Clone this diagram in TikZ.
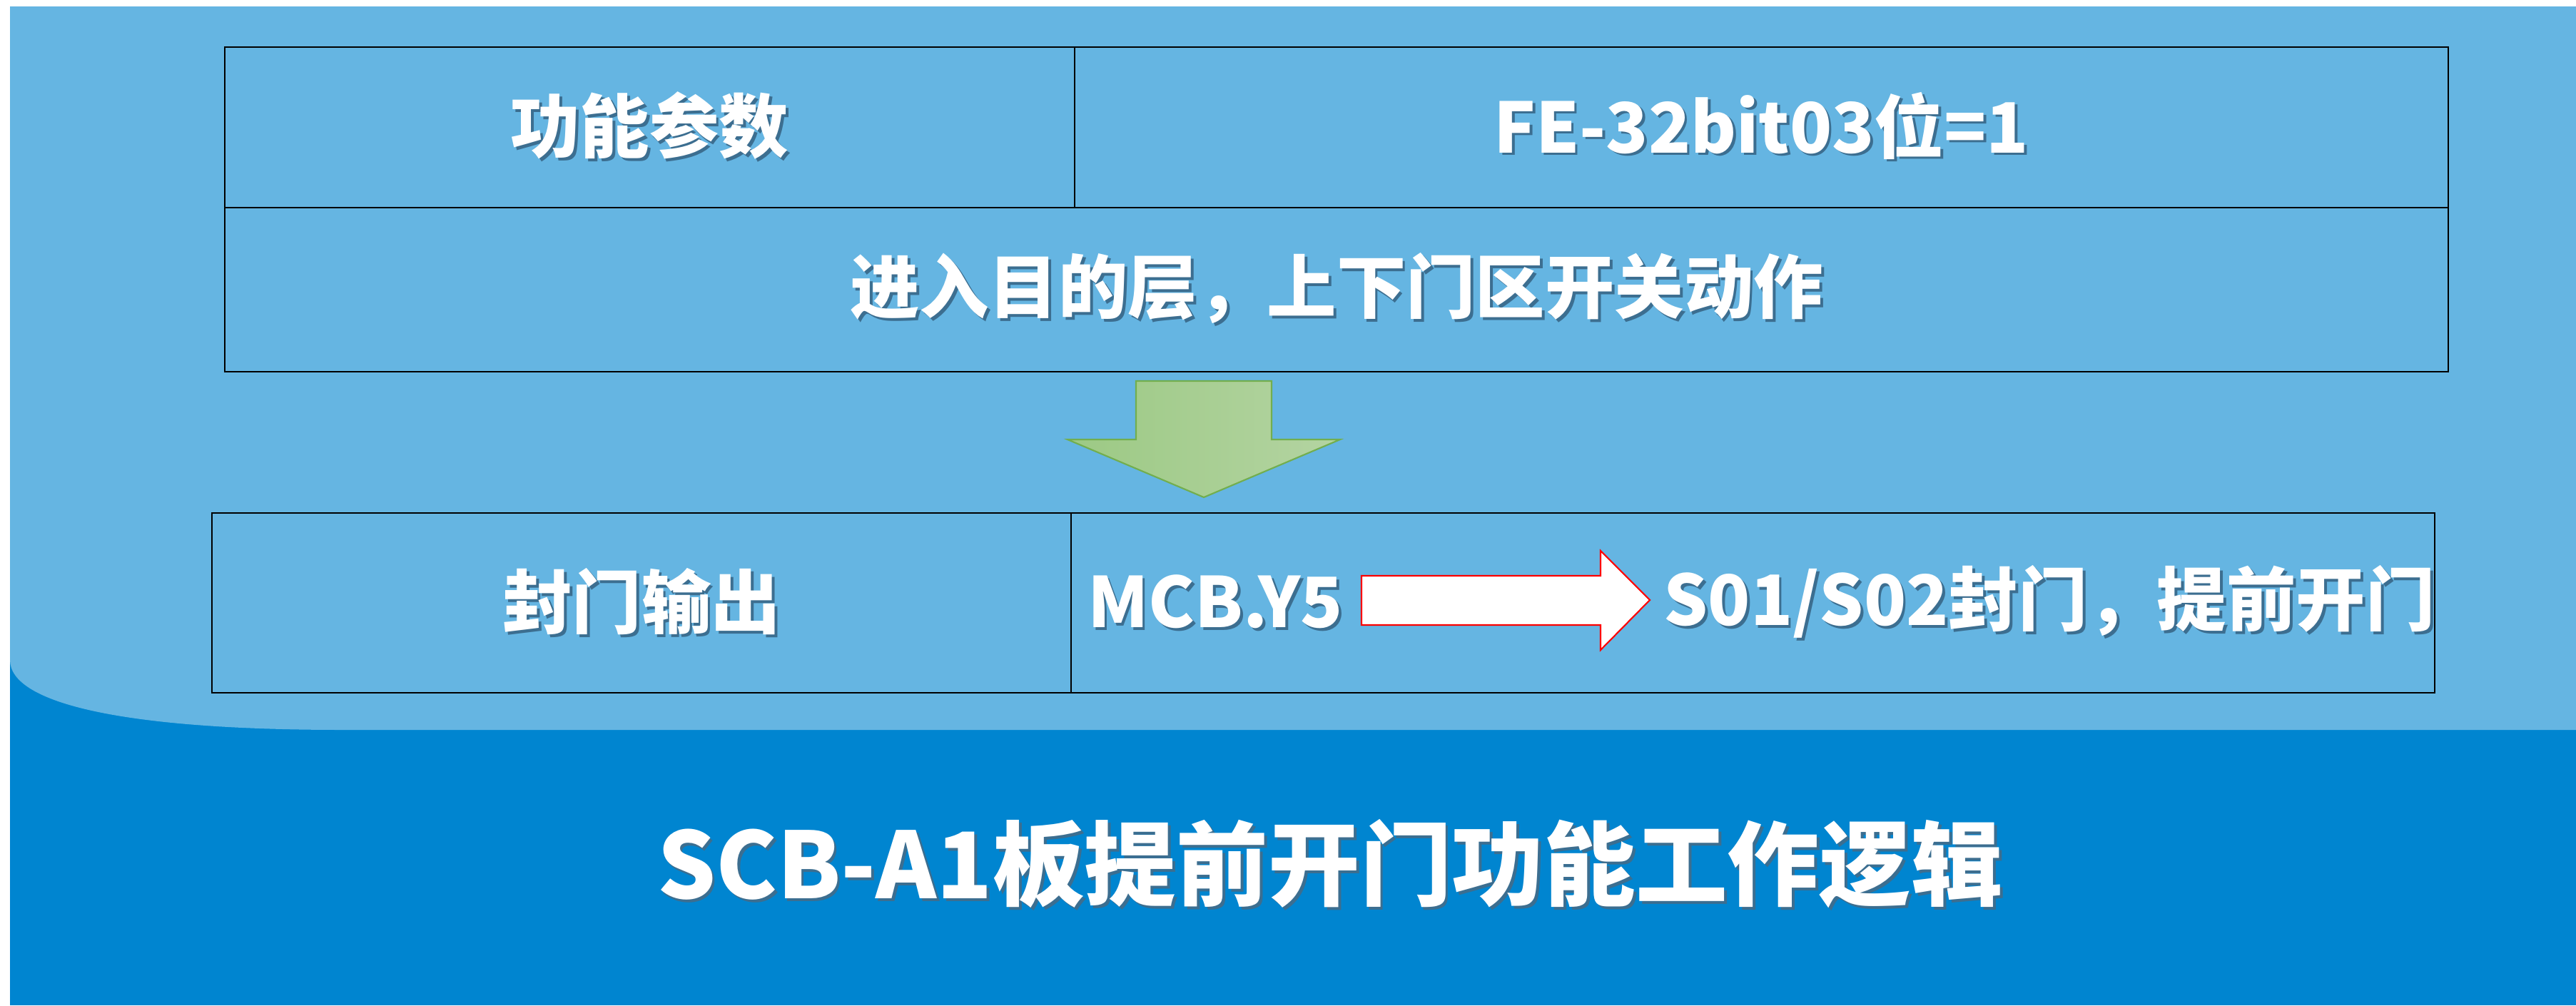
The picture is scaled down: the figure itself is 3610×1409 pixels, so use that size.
\documentclass[tikz,border=0pt]{standalone}
\usepackage{fontspec}
\setmainfont{Noto Sans CJK SC}

\definecolor{sfondo}{HTML}{65B5E2}
\definecolor{fascia}{HTML}{0085D0}
\definecolor{ombra}{HTML}{3C6E90}
\definecolor{verdeA}{HTML}{9CC984}
\definecolor{verdeB}{HTML}{B4D4A2}
\definecolor{verdeBordo}{HTML}{72AE4E}

% testo bianco con ombra
\newcommand{\ombrato}[1]{\makebox[0pt][l]{\kern1.1pt\raisebox{-1.1pt}{\color{ombra}#1}}#1}

\tikzset{
  testo/.style={text=white, inner sep=0pt, font=\bfseries\fontsize{27.7}{30}\selectfont},
  titolo/.style={text=white, inner sep=0pt, font=\bfseries\fontsize{36.6}{40}\selectfont},
  bordo/.style={draw=black, line width=0.8pt},
}

\begin{document}
\begin{tikzpicture}[x=0.01cm, y=-0.01cm]
        \useasboundingbox (0,0) rectangle (3610,1409);

        % Fascia scura in basso e sfondo chiaro
        \fill[fascia] (14,900) rectangle (3610,1409);
        \fill[sfondo] (14,9) -- (3610,9) -- (3610,1023) -- (480,1023)
            .. controls (170,1023) and (14,985) .. (14,925) -- cycle;

        % Tabella superiore
        \draw[bordo] (315,66) rectangle (3431,521);
        \draw[bordo] (315,291) -- (3431,291);
        \draw[bordo] (1506,66) -- (1506,291);

        % Tabella inferiore
        \draw[bordo] (297,719) rectangle (3412,971);
        \draw[bordo] (1501,719) -- (1501,971);

        % Testi della tabella superiore
        \node[testo](param) at (910,178) {\ombrato{功能参数}};
        \node[testo](fe32) at (2468,178) {\ombrato{FE-32bit03位=1}};
        \node[testo](azione) at (1873,406) {\ombrato{进入目的层，上下门区开关动作}};

        % Freccia verde verso il basso
        \draw[verdeBordo, line width=0.6pt, left color=verdeA, right color=verdeB]
            (1592,534) -- (1782,534) -- (1782,616) -- (1878,616) -- (1687,697)
            -- (1496,616) -- (1592,616) -- cycle;

        % Testi della tabella inferiore
        \node[testo](uscita) at (899,845) {\ombrato{封门输出}};
        \node[testo](mcb) at (1703,845) {\ombrato{MCB.Y5}};
        \node[testo](s01) at (2872,845) {\ombrato{S01/S02封门，提前开门}};

        % Freccia rossa tra MCB.Y5 e S01/S02
        \draw[red, line width=0.6pt, fill=white]
            (1908,807) -- (2243,807) -- (2243,772) -- (2312,841) -- (2243,911)
            -- (2243,876) -- (1908,876) -- cycle;

        % Titolo
        \node[titolo](tit) at (1864,1213) {\ombrato{SCB-A1板提前开门功能工作逻辑}};
\end{tikzpicture}
\end{document}
